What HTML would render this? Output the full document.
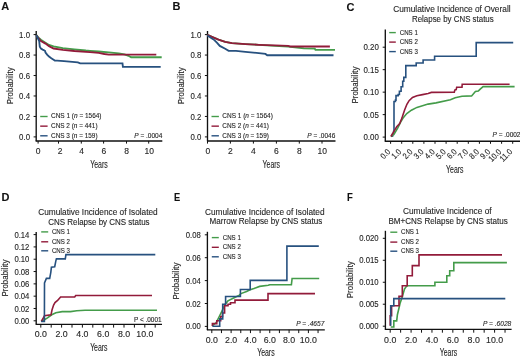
<!DOCTYPE html>
<html><head><meta charset="utf-8"><style>
html,body{margin:0;padding:0;background:#fff;}
body{width:520px;height:359px;overflow:hidden;}
svg{display:block;font-family:"Liberation Sans", sans-serif;will-change:transform;filter:blur(0.45px);}
text{stroke:#262626;stroke-width:0.12px;}
</style></head><body>
<svg width="520" height="359" viewBox="0 0 520 359">
<rect width="520" height="359" fill="#fff"/>
<text x="1.2" y="9.6" font-size="11" text-anchor="start" fill="#111" font-weight="bold" font-style="normal">A</text>
<line x1="36.2" y1="31" x2="36.2" y2="141.3" stroke="#111" stroke-width="1.35"/>
<line x1="33.6" y1="34.6" x2="36.2" y2="34.6" stroke="#111" stroke-width="1.0"/>
<text x="30" y="37.7" font-size="8.6" text-anchor="end" fill="#262626" font-weight="normal" font-style="normal" textLength="10.9" lengthAdjust="spacingAndGlyphs">1.0</text>
<line x1="33.6" y1="55.06" x2="36.2" y2="55.06" stroke="#111" stroke-width="1.0"/>
<text x="30" y="58.16" font-size="8.6" text-anchor="end" fill="#262626" font-weight="normal" font-style="normal" textLength="10.9" lengthAdjust="spacingAndGlyphs">0.8</text>
<line x1="33.6" y1="75.52" x2="36.2" y2="75.52" stroke="#111" stroke-width="1.0"/>
<text x="30" y="78.62" font-size="8.6" text-anchor="end" fill="#262626" font-weight="normal" font-style="normal" textLength="10.9" lengthAdjust="spacingAndGlyphs">0.6</text>
<line x1="33.6" y1="95.98" x2="36.2" y2="95.98" stroke="#111" stroke-width="1.0"/>
<text x="30" y="99.08" font-size="8.6" text-anchor="end" fill="#262626" font-weight="normal" font-style="normal" textLength="10.9" lengthAdjust="spacingAndGlyphs">0.4</text>
<line x1="33.6" y1="116.44" x2="36.2" y2="116.44" stroke="#111" stroke-width="1.0"/>
<text x="30" y="119.54" font-size="8.6" text-anchor="end" fill="#262626" font-weight="normal" font-style="normal" textLength="10.9" lengthAdjust="spacingAndGlyphs">0.2</text>
<line x1="33.6" y1="136.9" x2="36.2" y2="136.9" stroke="#111" stroke-width="1.0"/>
<text x="30" y="140" font-size="8.6" text-anchor="end" fill="#262626" font-weight="normal" font-style="normal" textLength="10.9" lengthAdjust="spacingAndGlyphs">0.0</text>
<line x1="35.7" y1="141" x2="162.3" y2="141" stroke="#111" stroke-width="1.35"/>
<line x1="38.1" y1="141" x2="38.1" y2="143.6" stroke="#111" stroke-width="1.0"/>
<line x1="58.5" y1="141" x2="58.5" y2="143.6" stroke="#111" stroke-width="1.0"/>
<line x1="81.3" y1="141" x2="81.3" y2="143.6" stroke="#111" stroke-width="1.0"/>
<line x1="103.6" y1="141" x2="103.6" y2="143.6" stroke="#111" stroke-width="1.0"/>
<line x1="126.5" y1="141" x2="126.5" y2="143.6" stroke="#111" stroke-width="1.0"/>
<line x1="148.7" y1="141" x2="148.7" y2="143.6" stroke="#111" stroke-width="1.0"/>
<text x="38" y="154.16" font-size="8.5" text-anchor="middle" fill="#262626" font-weight="normal" font-style="normal">0</text>
<text x="60" y="154.16" font-size="8.5" text-anchor="middle" fill="#262626" font-weight="normal" font-style="normal">2</text>
<text x="81.7" y="154.16" font-size="8.5" text-anchor="middle" fill="#262626" font-weight="normal" font-style="normal">4</text>
<text x="103.8" y="154.16" font-size="8.5" text-anchor="middle" fill="#262626" font-weight="normal" font-style="normal">6</text>
<text x="126.5" y="154.16" font-size="8.5" text-anchor="middle" fill="#262626" font-weight="normal" font-style="normal">8</text>
<text x="149.2" y="154.16" font-size="8.5" text-anchor="middle" fill="#262626" font-weight="normal" font-style="normal">10</text>
<text x="99" y="167.5" font-size="10.2" text-anchor="middle" fill="#262626" font-weight="normal" font-style="normal" textLength="17.5" lengthAdjust="spacingAndGlyphs">Years</text>
<text transform="translate(13,85.8) rotate(-90)" x="0" y="0" font-size="9" text-anchor="middle" fill="#262626" textLength="37" lengthAdjust="spacingAndGlyphs">Probability</text>
<line x1="40.2" y1="116.5" x2="47.6" y2="116.5" stroke="#449c4a" stroke-width="1.4"/>
<line x1="40.2" y1="126.15" x2="47.6" y2="126.15" stroke="#921b3a" stroke-width="1.4"/>
<line x1="40.2" y1="135.8" x2="47.6" y2="135.8" stroke="#27517f" stroke-width="1.4"/>
<text x="51" y="118.35" font-size="7.2" fill="#262626" textLength="50.5" lengthAdjust="spacingAndGlyphs">CNS 1 (<tspan font-style="italic">n</tspan> = 1564)</text>
<text x="51" y="128" font-size="7.2" fill="#262626" textLength="46.6" lengthAdjust="spacingAndGlyphs">CNS 2 (<tspan font-style="italic">n</tspan> = 441)</text>
<text x="51" y="137.65" font-size="7.2" fill="#262626" textLength="46.6" lengthAdjust="spacingAndGlyphs">CNS 3 (<tspan font-style="italic">n</tspan> = 159)</text>
<text x="162.3" y="137.75" font-size="6.8" fill="#262626" text-anchor="end" textLength="28" lengthAdjust="spacingAndGlyphs"><tspan font-style="italic">P</tspan> = .0004</text>
<polyline points="36.3,35.2 38.5,37.6 40.9,39.8 45.5,42.7 49,45 53.6,46.4 62.8,48.2 74.4,49.4 85.9,50.5 90,50.8 98.7,51.5 108.8,52.3 118.8,53.3 124.5,54.4 128.5,55.8 131.1,57.2 161.7,57.2" fill="none" stroke="#449c4a" stroke-width="1.85" stroke-linejoin="miter"/>
<polyline points="36.3,35.2 38.5,38.2 40.9,41 45.5,43.6 49,46.2 53.6,48.5 62.8,49.8 74.4,51 85.9,51.9 90,52.2 98.7,52.9 104.4,54 108.8,54.6 156.3,54.6" fill="none" stroke="#921b3a" stroke-width="1.85" stroke-linejoin="miter"/>
<polyline points="36.3,35.2 37.5,37.5 39.2,41 39.8,46.7 40.9,48.5 42.7,49.6 45,50.8 45.5,52.5 47.3,54.8 49,56.5 51.3,58.3 53.6,59.8 54.8,60.6 57.1,60.6 64,61.2 77.8,62.3 80.2,63.4 122.5,63.4 122.9,66.8 160.7,66.8" fill="none" stroke="#27517f" stroke-width="1.85" stroke-linejoin="miter"/>
<text x="172.5" y="10.1" font-size="11" text-anchor="start" fill="#111" font-weight="bold" font-style="normal">B</text>
<line x1="207.5" y1="31" x2="207.5" y2="141.3" stroke="#111" stroke-width="1.35"/>
<line x1="204.9" y1="34.6" x2="207.5" y2="34.6" stroke="#111" stroke-width="1.0"/>
<text x="201.3" y="37.7" font-size="8.6" text-anchor="end" fill="#262626" font-weight="normal" font-style="normal" textLength="10.9" lengthAdjust="spacingAndGlyphs">1.0</text>
<line x1="204.9" y1="55.06" x2="207.5" y2="55.06" stroke="#111" stroke-width="1.0"/>
<text x="201.3" y="58.16" font-size="8.6" text-anchor="end" fill="#262626" font-weight="normal" font-style="normal" textLength="10.9" lengthAdjust="spacingAndGlyphs">0.8</text>
<line x1="204.9" y1="75.52" x2="207.5" y2="75.52" stroke="#111" stroke-width="1.0"/>
<text x="201.3" y="78.62" font-size="8.6" text-anchor="end" fill="#262626" font-weight="normal" font-style="normal" textLength="10.9" lengthAdjust="spacingAndGlyphs">0.6</text>
<line x1="204.9" y1="95.98" x2="207.5" y2="95.98" stroke="#111" stroke-width="1.0"/>
<text x="201.3" y="99.08" font-size="8.6" text-anchor="end" fill="#262626" font-weight="normal" font-style="normal" textLength="10.9" lengthAdjust="spacingAndGlyphs">0.4</text>
<line x1="204.9" y1="116.44" x2="207.5" y2="116.44" stroke="#111" stroke-width="1.0"/>
<text x="201.3" y="119.54" font-size="8.6" text-anchor="end" fill="#262626" font-weight="normal" font-style="normal" textLength="10.9" lengthAdjust="spacingAndGlyphs">0.2</text>
<line x1="204.9" y1="136.9" x2="207.5" y2="136.9" stroke="#111" stroke-width="1.0"/>
<text x="201.3" y="140" font-size="8.6" text-anchor="end" fill="#262626" font-weight="normal" font-style="normal" textLength="10.9" lengthAdjust="spacingAndGlyphs">0.0</text>
<line x1="207" y1="141" x2="335.5" y2="141" stroke="#111" stroke-width="1.35"/>
<line x1="207.5" y1="141" x2="207.5" y2="143.6" stroke="#111" stroke-width="1.0"/>
<line x1="230.4" y1="141" x2="230.4" y2="143.6" stroke="#111" stroke-width="1.0"/>
<line x1="253.4" y1="141" x2="253.4" y2="143.6" stroke="#111" stroke-width="1.0"/>
<line x1="276.4" y1="141" x2="276.4" y2="143.6" stroke="#111" stroke-width="1.0"/>
<line x1="299.3" y1="141" x2="299.3" y2="143.6" stroke="#111" stroke-width="1.0"/>
<line x1="322" y1="141" x2="322" y2="143.6" stroke="#111" stroke-width="1.0"/>
<text x="207.8" y="154.16" font-size="8.5" text-anchor="middle" fill="#262626" font-weight="normal" font-style="normal">0</text>
<text x="230.4" y="154.16" font-size="8.5" text-anchor="middle" fill="#262626" font-weight="normal" font-style="normal">2</text>
<text x="253.4" y="154.16" font-size="8.5" text-anchor="middle" fill="#262626" font-weight="normal" font-style="normal">4</text>
<text x="276.4" y="154.16" font-size="8.5" text-anchor="middle" fill="#262626" font-weight="normal" font-style="normal">6</text>
<text x="299.3" y="154.16" font-size="8.5" text-anchor="middle" fill="#262626" font-weight="normal" font-style="normal">8</text>
<text x="322.2" y="154.16" font-size="8.5" text-anchor="middle" fill="#262626" font-weight="normal" font-style="normal">10</text>
<text x="271.3" y="167.5" font-size="10.2" text-anchor="middle" fill="#262626" font-weight="normal" font-style="normal" textLength="17.5" lengthAdjust="spacingAndGlyphs">Years</text>
<text transform="translate(184.3,85.8) rotate(-90)" x="0" y="0" font-size="9" text-anchor="middle" fill="#262626" textLength="37" lengthAdjust="spacingAndGlyphs">Probability</text>
<line x1="211.5" y1="116.5" x2="218.9" y2="116.5" stroke="#449c4a" stroke-width="1.4"/>
<line x1="211.5" y1="126.15" x2="218.9" y2="126.15" stroke="#921b3a" stroke-width="1.4"/>
<line x1="211.5" y1="135.8" x2="218.9" y2="135.8" stroke="#27517f" stroke-width="1.4"/>
<text x="222.3" y="118.35" font-size="7.2" fill="#262626" textLength="50.5" lengthAdjust="spacingAndGlyphs">CNS 1 (<tspan font-style="italic">n</tspan> = 1564)</text>
<text x="222.3" y="128" font-size="7.2" fill="#262626" textLength="46.6" lengthAdjust="spacingAndGlyphs">CNS 2 (<tspan font-style="italic">n</tspan> = 441)</text>
<text x="222.3" y="137.65" font-size="7.2" fill="#262626" textLength="46.6" lengthAdjust="spacingAndGlyphs">CNS 3 (<tspan font-style="italic">n</tspan> = 159)</text>
<text x="335.3" y="137.75" font-size="6.8" fill="#262626" text-anchor="end" textLength="28" lengthAdjust="spacingAndGlyphs"><tspan font-style="italic">P</tspan> = .0046</text>
<polyline points="207.4,34.9 213.1,37.4 218.5,39.7 225.2,41.8 231.9,43.2 245.4,44.1 258.8,44.8 275,45.9 288.1,46.6 303.9,48.3 314.8,48.7 315.5,49.9 335,49.9" fill="none" stroke="#449c4a" stroke-width="1.85" stroke-linejoin="miter"/>
<polyline points="207.4,34.9 213.1,37.4 218.5,39.7 225.2,41.8 231.9,43.2 245.4,44.1 258.8,44.8 275,45.3 288.1,45.8 290.2,46.5 329.9,46.5" fill="none" stroke="#921b3a" stroke-width="1.85" stroke-linejoin="miter"/>
<polyline points="207.4,35.4 210.4,37.4 214.4,40.1 217.1,42.8 219.8,45.9 225.2,48.8 228.6,50.9 236,50.9 245.4,51.8 258.8,53.1 265.5,53.9 267.2,55.2 333.5,55.2" fill="none" stroke="#27517f" stroke-width="1.85" stroke-linejoin="miter"/>
<text x="346.5" y="10.7" font-size="11" text-anchor="start" fill="#111" font-weight="bold" font-style="normal">C</text>
<text x="451.9" y="12.4" font-size="8.7" text-anchor="middle" fill="#262626" font-weight="normal" font-style="normal" textLength="117.4" lengthAdjust="spacingAndGlyphs">Cumulative Incidence of Overall</text>
<text x="452.85" y="22.1" font-size="8.7" text-anchor="middle" fill="#262626" font-weight="normal" font-style="normal" textLength="81.7" lengthAdjust="spacingAndGlyphs">Relapse by CNS status</text>
<line x1="385.3" y1="29.4" x2="385.3" y2="141.5" stroke="#111" stroke-width="1.35"/>
<line x1="382.7" y1="137.1" x2="385.3" y2="137.1" stroke="#111" stroke-width="1.0"/>
<text x="378.8" y="140.16" font-size="8.5" text-anchor="end" fill="#262626" font-weight="normal" font-style="normal" textLength="15.4" lengthAdjust="spacingAndGlyphs">0.00</text>
<line x1="382.7" y1="114.62" x2="385.3" y2="114.62" stroke="#111" stroke-width="1.0"/>
<text x="378.8" y="117.69" font-size="8.5" text-anchor="end" fill="#262626" font-weight="normal" font-style="normal" textLength="15.4" lengthAdjust="spacingAndGlyphs">0.05</text>
<line x1="382.7" y1="92.15" x2="385.3" y2="92.15" stroke="#111" stroke-width="1.0"/>
<text x="378.8" y="95.21" font-size="8.5" text-anchor="end" fill="#262626" font-weight="normal" font-style="normal" textLength="15.4" lengthAdjust="spacingAndGlyphs">0.10</text>
<line x1="382.7" y1="69.67" x2="385.3" y2="69.67" stroke="#111" stroke-width="1.0"/>
<text x="378.8" y="72.73" font-size="8.5" text-anchor="end" fill="#262626" font-weight="normal" font-style="normal" textLength="15.4" lengthAdjust="spacingAndGlyphs">0.15</text>
<line x1="382.7" y1="47.2" x2="385.3" y2="47.2" stroke="#111" stroke-width="1.0"/>
<text x="378.8" y="50.26" font-size="8.5" text-anchor="end" fill="#262626" font-weight="normal" font-style="normal" textLength="15.4" lengthAdjust="spacingAndGlyphs">0.20</text>
<line x1="384.8" y1="141.2" x2="520" y2="141.2" stroke="#111" stroke-width="1.35"/>
<line x1="390.6" y1="141.2" x2="390.6" y2="143.8" stroke="#111" stroke-width="1.0"/>
<line x1="401.7" y1="141.2" x2="401.7" y2="143.8" stroke="#111" stroke-width="1.0"/>
<line x1="412.8" y1="141.2" x2="412.8" y2="143.8" stroke="#111" stroke-width="1.0"/>
<line x1="423.9" y1="141.2" x2="423.9" y2="143.8" stroke="#111" stroke-width="1.0"/>
<line x1="435" y1="141.2" x2="435" y2="143.8" stroke="#111" stroke-width="1.0"/>
<line x1="446.1" y1="141.2" x2="446.1" y2="143.8" stroke="#111" stroke-width="1.0"/>
<line x1="457.2" y1="141.2" x2="457.2" y2="143.8" stroke="#111" stroke-width="1.0"/>
<line x1="468.3" y1="141.2" x2="468.3" y2="143.8" stroke="#111" stroke-width="1.0"/>
<line x1="479.4" y1="141.2" x2="479.4" y2="143.8" stroke="#111" stroke-width="1.0"/>
<line x1="490.5" y1="141.2" x2="490.5" y2="143.8" stroke="#111" stroke-width="1.0"/>
<line x1="501.6" y1="141.2" x2="501.6" y2="143.8" stroke="#111" stroke-width="1.0"/>
<line x1="512.7" y1="141.2" x2="512.7" y2="143.8" stroke="#111" stroke-width="1.0"/>
<text transform="translate(390.9,152.3) rotate(-45)" font-size="8.4" text-anchor="end" fill="#262626" textLength="10.2" lengthAdjust="spacingAndGlyphs">0.0</text>
<text transform="translate(402,152.3) rotate(-45)" font-size="8.4" text-anchor="end" fill="#262626" textLength="10.2" lengthAdjust="spacingAndGlyphs">1.0</text>
<text transform="translate(413.1,152.3) rotate(-45)" font-size="8.4" text-anchor="end" fill="#262626" textLength="10.2" lengthAdjust="spacingAndGlyphs">2.0</text>
<text transform="translate(424.2,152.3) rotate(-45)" font-size="8.4" text-anchor="end" fill="#262626" textLength="10.2" lengthAdjust="spacingAndGlyphs">3.0</text>
<text transform="translate(435.3,152.3) rotate(-45)" font-size="8.4" text-anchor="end" fill="#262626" textLength="10.2" lengthAdjust="spacingAndGlyphs">4.0</text>
<text transform="translate(446.4,152.3) rotate(-45)" font-size="8.4" text-anchor="end" fill="#262626" textLength="10.2" lengthAdjust="spacingAndGlyphs">5.0</text>
<text transform="translate(457.5,152.3) rotate(-45)" font-size="8.4" text-anchor="end" fill="#262626" textLength="10.2" lengthAdjust="spacingAndGlyphs">6.0</text>
<text transform="translate(468.6,152.3) rotate(-45)" font-size="8.4" text-anchor="end" fill="#262626" textLength="10.2" lengthAdjust="spacingAndGlyphs">7.0</text>
<text transform="translate(479.7,152.3) rotate(-45)" font-size="8.4" text-anchor="end" fill="#262626" textLength="10.2" lengthAdjust="spacingAndGlyphs">8.0</text>
<text transform="translate(490.8,152.3) rotate(-45)" font-size="8.4" text-anchor="end" fill="#262626" textLength="10.2" lengthAdjust="spacingAndGlyphs">9.0</text>
<text transform="translate(501.9,152.3) rotate(-45)" font-size="8.4" text-anchor="end" fill="#262626" textLength="14.2" lengthAdjust="spacingAndGlyphs">10.0</text>
<text transform="translate(513,152.3) rotate(-45)" font-size="8.4" text-anchor="end" fill="#262626" textLength="14.2" lengthAdjust="spacingAndGlyphs">11.0</text>
<text x="454.8" y="173.1" font-size="10.2" text-anchor="middle" fill="#262626" font-weight="normal" font-style="normal" textLength="17.4" lengthAdjust="spacingAndGlyphs">Years</text>
<text transform="translate(357.9,85) rotate(-90)" x="0" y="0" font-size="9" text-anchor="middle" fill="#262626" textLength="37" lengthAdjust="spacingAndGlyphs">Probability</text>
<line x1="389.2" y1="32.6" x2="395.8" y2="32.6" stroke="#449c4a" stroke-width="1.4"/>
<text x="399.8" y="34.7" font-size="6.3" text-anchor="start" fill="#262626" font-weight="normal" font-style="normal" textLength="18" lengthAdjust="spacingAndGlyphs">CNS 1</text>
<line x1="389.2" y1="42.1" x2="395.8" y2="42.1" stroke="#921b3a" stroke-width="1.4"/>
<text x="399.8" y="44.2" font-size="6.3" text-anchor="start" fill="#262626" font-weight="normal" font-style="normal" textLength="18" lengthAdjust="spacingAndGlyphs">CNS 2</text>
<line x1="389.2" y1="51.6" x2="395.8" y2="51.6" stroke="#27517f" stroke-width="1.4"/>
<text x="399.8" y="53.7" font-size="6.3" text-anchor="start" fill="#262626" font-weight="normal" font-style="normal" textLength="18" lengthAdjust="spacingAndGlyphs">CNS 3</text>
<text x="520.5" y="136.7" font-size="6.4" fill="#262626" text-anchor="end" textLength="28" lengthAdjust="spacingAndGlyphs"><tspan font-style="italic">P</tspan> = .0002</text>
<polyline points="390.9,136.3 392.5,136.3 392.5,134.5 393.6,134.5 393.6,131.5 394,131.5 394,101.5 395.4,101.5 395.4,100.1 396,100.1 396,95.6 398.2,95.6 398.2,94.5 399.4,94.5 399.4,91.2 401.1,91.2 401.1,86.7 402.7,86.7 402.7,81.2 403.8,81.2 403.8,77.4 405.8,77.4 405.8,75 405.8,65.6 416.2,65.6 416.2,63 423.1,63 423.1,60 434.6,60 434.6,56.2 476.2,56.2 476.2,42.6 513.2,42.6" fill="none" stroke="#27517f" stroke-width="1.6" stroke-linejoin="miter"/>
<polyline points="391.3,136.6 394.5,133.4 397.8,127.9 401.1,121.2 403.5,117.4 406.8,113.6 411.4,110.2 416.9,107.4 422.5,105.7 428.1,104.1 436,102.9 450.4,99.7 455.2,97.8 462,96.2 471.6,95.9 475.4,91.5 478.3,91.1 480.2,89.1 483.1,86.6 514.6,86.6" fill="none" stroke="#449c4a" stroke-width="1.6" stroke-linejoin="miter"/>
<polyline points="390.9,136.5 393.3,132.3 396.7,126.8 399.7,123.5 401.5,119 402.5,116.3 404.7,109.8 406.9,104.3 409.1,100.7 412.5,97.4 416.9,95.7 422.5,94.6 428.1,93.5 431.4,92.4 454.3,92.3 454.8,90.1 456.2,89.6 456.7,87.2 462,87.2 462.2,84.3 509.6,84.3" fill="none" stroke="#921b3a" stroke-width="1.6" stroke-linejoin="miter"/>
<text x="1.5" y="201" font-size="11" text-anchor="start" fill="#111" font-weight="bold" font-style="normal">D</text>
<text x="97.95" y="214.5" font-size="8.7" text-anchor="middle" fill="#262626" font-weight="normal" font-style="normal" textLength="119.5" lengthAdjust="spacingAndGlyphs">Cumulative Incidence of Isolated</text>
<text x="98.9" y="224.6" font-size="8.7" text-anchor="middle" fill="#262626" font-weight="normal" font-style="normal" textLength="101.4" lengthAdjust="spacingAndGlyphs">CNS Relapse by CNS status</text>
<line x1="36.2" y1="232" x2="36.2" y2="324.6" stroke="#111" stroke-width="1.35"/>
<line x1="33.6" y1="320.8" x2="36.2" y2="320.8" stroke="#111" stroke-width="1.0"/>
<text x="29.4" y="323.86" font-size="8.5" text-anchor="end" fill="#262626" font-weight="normal" font-style="normal" textLength="15" lengthAdjust="spacingAndGlyphs">0.00</text>
<line x1="33.6" y1="308.49" x2="36.2" y2="308.49" stroke="#111" stroke-width="1.0"/>
<text x="29.4" y="311.55" font-size="8.5" text-anchor="end" fill="#262626" font-weight="normal" font-style="normal" textLength="15" lengthAdjust="spacingAndGlyphs">0.02</text>
<line x1="33.6" y1="296.17" x2="36.2" y2="296.17" stroke="#111" stroke-width="1.0"/>
<text x="29.4" y="299.23" font-size="8.5" text-anchor="end" fill="#262626" font-weight="normal" font-style="normal" textLength="15" lengthAdjust="spacingAndGlyphs">0.04</text>
<line x1="33.6" y1="283.86" x2="36.2" y2="283.86" stroke="#111" stroke-width="1.0"/>
<text x="29.4" y="286.92" font-size="8.5" text-anchor="end" fill="#262626" font-weight="normal" font-style="normal" textLength="15" lengthAdjust="spacingAndGlyphs">0.06</text>
<line x1="33.6" y1="271.54" x2="36.2" y2="271.54" stroke="#111" stroke-width="1.0"/>
<text x="29.4" y="274.6" font-size="8.5" text-anchor="end" fill="#262626" font-weight="normal" font-style="normal" textLength="15" lengthAdjust="spacingAndGlyphs">0.08</text>
<line x1="33.6" y1="259.23" x2="36.2" y2="259.23" stroke="#111" stroke-width="1.0"/>
<text x="29.4" y="262.29" font-size="8.5" text-anchor="end" fill="#262626" font-weight="normal" font-style="normal" textLength="15" lengthAdjust="spacingAndGlyphs">0.10</text>
<line x1="33.6" y1="246.92" x2="36.2" y2="246.92" stroke="#111" stroke-width="1.0"/>
<text x="29.4" y="249.98" font-size="8.5" text-anchor="end" fill="#262626" font-weight="normal" font-style="normal" textLength="15" lengthAdjust="spacingAndGlyphs">0.12</text>
<line x1="33.6" y1="234.6" x2="36.2" y2="234.6" stroke="#111" stroke-width="1.0"/>
<text x="29.4" y="237.66" font-size="8.5" text-anchor="end" fill="#262626" font-weight="normal" font-style="normal" textLength="15" lengthAdjust="spacingAndGlyphs">0.14</text>
<line x1="35.7" y1="324.3" x2="162" y2="324.3" stroke="#111" stroke-width="1.35"/>
<line x1="40.8" y1="324.3" x2="40.8" y2="327.6" stroke="#111" stroke-width="1.0"/>
<line x1="51.2" y1="324.3" x2="51.2" y2="327.6" stroke="#111" stroke-width="1.0"/>
<line x1="61.6" y1="324.3" x2="61.6" y2="327.6" stroke="#111" stroke-width="1.0"/>
<line x1="72" y1="324.3" x2="72" y2="327.6" stroke="#111" stroke-width="1.0"/>
<line x1="82.4" y1="324.3" x2="82.4" y2="327.6" stroke="#111" stroke-width="1.0"/>
<line x1="92.8" y1="324.3" x2="92.8" y2="327.6" stroke="#111" stroke-width="1.0"/>
<line x1="103.2" y1="324.3" x2="103.2" y2="327.6" stroke="#111" stroke-width="1.0"/>
<line x1="113.6" y1="324.3" x2="113.6" y2="327.6" stroke="#111" stroke-width="1.0"/>
<line x1="124" y1="324.3" x2="124" y2="327.6" stroke="#111" stroke-width="1.0"/>
<line x1="134.4" y1="324.3" x2="134.4" y2="327.6" stroke="#111" stroke-width="1.0"/>
<line x1="144.8" y1="324.3" x2="144.8" y2="327.6" stroke="#111" stroke-width="1.0"/>
<line x1="155.2" y1="324.3" x2="155.2" y2="327.6" stroke="#111" stroke-width="1.0"/>
<text x="40.8" y="337.47" font-size="8.8" text-anchor="middle" fill="#262626" font-weight="normal" font-style="normal">0.0</text>
<text x="61.6" y="337.47" font-size="8.8" text-anchor="middle" fill="#262626" font-weight="normal" font-style="normal">2.0</text>
<text x="82.4" y="337.47" font-size="8.8" text-anchor="middle" fill="#262626" font-weight="normal" font-style="normal">4.0</text>
<text x="103.2" y="337.47" font-size="8.8" text-anchor="middle" fill="#262626" font-weight="normal" font-style="normal">6.0</text>
<text x="124" y="337.47" font-size="8.8" text-anchor="middle" fill="#262626" font-weight="normal" font-style="normal">8.0</text>
<text x="144.8" y="337.47" font-size="8.8" text-anchor="middle" fill="#262626" font-weight="normal" font-style="normal">10.0</text>
<text x="98.85" y="351" font-size="10.2" text-anchor="middle" fill="#262626" font-weight="normal" font-style="normal" textLength="17.4" lengthAdjust="spacingAndGlyphs">Years</text>
<text transform="translate(8.3,278) rotate(-90)" x="0" y="0" font-size="9" text-anchor="middle" fill="#262626" textLength="37" lengthAdjust="spacingAndGlyphs">Probability</text>
<line x1="41.2" y1="231.9" x2="48.2" y2="231.9" stroke="#449c4a" stroke-width="1.4"/>
<text x="51.9" y="234" font-size="6.3" text-anchor="start" fill="#262626" font-weight="normal" font-style="normal" textLength="18" lengthAdjust="spacingAndGlyphs">CNS 1</text>
<line x1="41.2" y1="241.8" x2="48.2" y2="241.8" stroke="#921b3a" stroke-width="1.4"/>
<text x="51.9" y="243.9" font-size="6.3" text-anchor="start" fill="#262626" font-weight="normal" font-style="normal" textLength="18" lengthAdjust="spacingAndGlyphs">CNS 2</text>
<line x1="41.2" y1="250.8" x2="48.2" y2="250.8" stroke="#27517f" stroke-width="1.4"/>
<text x="51.9" y="252.9" font-size="6.3" text-anchor="start" fill="#262626" font-weight="normal" font-style="normal" textLength="18" lengthAdjust="spacingAndGlyphs">CNS 3</text>
<text x="161.6" y="322.1" font-size="6.4" fill="#262626" text-anchor="end" textLength="27.6" lengthAdjust="spacingAndGlyphs">P &lt; .0001</text>
<polyline points="41.2,321.2 44,320 47.5,317.9 51.7,314.8 55.9,312.7 62.2,311.6 70.5,311.6 76.8,310.8 85,310.2 157,310.2" fill="none" stroke="#449c4a" stroke-width="1.6" stroke-linejoin="miter"/>
<polyline points="41.3,321.3 43.3,318 44.5,315.8 51,314.8 52,310 53.6,305 55,302.5 57.6,300.5 60.6,297 74.7,297 75.7,295.5 152,295.5" fill="none" stroke="#921b3a" stroke-width="1.6" stroke-linejoin="miter"/>
<polyline points="41.2,321.5 44.4,321.5 44.5,283 46.4,278.4 49.7,278.4 50.8,272.3 51.4,267.3 54.7,266.7 55.8,261.1 56.4,258.9 65.3,258.9 65.9,254.6 155.3,254.6" fill="none" stroke="#27517f" stroke-width="1.6" stroke-linejoin="miter"/>
<text x="174" y="201" font-size="11" text-anchor="start" fill="#111" font-weight="bold" font-style="normal" textLength="6.2" lengthAdjust="spacingAndGlyphs">E</text>
<text x="264.75" y="214.5" font-size="8.7" text-anchor="middle" fill="#262626" font-weight="normal" font-style="normal" textLength="119.5" lengthAdjust="spacingAndGlyphs">Cumulative Incidence of Isolated</text>
<text x="265.95" y="224.4" font-size="8.7" text-anchor="middle" fill="#262626" font-weight="normal" font-style="normal" textLength="112.7" lengthAdjust="spacingAndGlyphs">Marrow Relapse by CNS status</text>
<line x1="207.4" y1="231.8" x2="207.4" y2="330.1" stroke="#111" stroke-width="1.35"/>
<line x1="204.8" y1="326.4" x2="207.4" y2="326.4" stroke="#111" stroke-width="1.0"/>
<text x="200.8" y="329.46" font-size="8.5" text-anchor="end" fill="#262626" font-weight="normal" font-style="normal" textLength="15" lengthAdjust="spacingAndGlyphs">0.00</text>
<line x1="204.8" y1="303.5" x2="207.4" y2="303.5" stroke="#111" stroke-width="1.0"/>
<text x="200.8" y="306.56" font-size="8.5" text-anchor="end" fill="#262626" font-weight="normal" font-style="normal" textLength="15" lengthAdjust="spacingAndGlyphs">0.02</text>
<line x1="204.8" y1="280.6" x2="207.4" y2="280.6" stroke="#111" stroke-width="1.0"/>
<text x="200.8" y="283.66" font-size="8.5" text-anchor="end" fill="#262626" font-weight="normal" font-style="normal" textLength="15" lengthAdjust="spacingAndGlyphs">0.04</text>
<line x1="204.8" y1="257.7" x2="207.4" y2="257.7" stroke="#111" stroke-width="1.0"/>
<text x="200.8" y="260.76" font-size="8.5" text-anchor="end" fill="#262626" font-weight="normal" font-style="normal" textLength="15" lengthAdjust="spacingAndGlyphs">0.06</text>
<line x1="204.8" y1="234.8" x2="207.4" y2="234.8" stroke="#111" stroke-width="1.0"/>
<text x="200.8" y="237.86" font-size="8.5" text-anchor="end" fill="#262626" font-weight="normal" font-style="normal" textLength="15" lengthAdjust="spacingAndGlyphs">0.08</text>
<line x1="206.9" y1="329.8" x2="324.8" y2="329.8" stroke="#111" stroke-width="1.35"/>
<line x1="211.8" y1="329.8" x2="211.8" y2="333.1" stroke="#111" stroke-width="1.0"/>
<line x1="221.46" y1="329.8" x2="221.46" y2="333.1" stroke="#111" stroke-width="1.0"/>
<line x1="231.12" y1="329.8" x2="231.12" y2="333.1" stroke="#111" stroke-width="1.0"/>
<line x1="240.78" y1="329.8" x2="240.78" y2="333.1" stroke="#111" stroke-width="1.0"/>
<line x1="250.44" y1="329.8" x2="250.44" y2="333.1" stroke="#111" stroke-width="1.0"/>
<line x1="260.1" y1="329.8" x2="260.1" y2="333.1" stroke="#111" stroke-width="1.0"/>
<line x1="269.76" y1="329.8" x2="269.76" y2="333.1" stroke="#111" stroke-width="1.0"/>
<line x1="279.42" y1="329.8" x2="279.42" y2="333.1" stroke="#111" stroke-width="1.0"/>
<line x1="289.08" y1="329.8" x2="289.08" y2="333.1" stroke="#111" stroke-width="1.0"/>
<line x1="298.74" y1="329.8" x2="298.74" y2="333.1" stroke="#111" stroke-width="1.0"/>
<line x1="308.4" y1="329.8" x2="308.4" y2="333.1" stroke="#111" stroke-width="1.0"/>
<line x1="318.06" y1="329.8" x2="318.06" y2="333.1" stroke="#111" stroke-width="1.0"/>
<text x="211.8" y="342.97" font-size="8.8" text-anchor="middle" fill="#262626" font-weight="normal" font-style="normal">0.0</text>
<text x="231.12" y="342.97" font-size="8.8" text-anchor="middle" fill="#262626" font-weight="normal" font-style="normal">2.0</text>
<text x="250.44" y="342.97" font-size="8.8" text-anchor="middle" fill="#262626" font-weight="normal" font-style="normal">4.0</text>
<text x="269.76" y="342.97" font-size="8.8" text-anchor="middle" fill="#262626" font-weight="normal" font-style="normal">6.0</text>
<text x="289.08" y="342.97" font-size="8.8" text-anchor="middle" fill="#262626" font-weight="normal" font-style="normal">8.0</text>
<text x="308.4" y="342.97" font-size="8.8" text-anchor="middle" fill="#262626" font-weight="normal" font-style="normal">10.0</text>
<text x="265.9" y="356.2" font-size="10.2" text-anchor="middle" fill="#262626" font-weight="normal" font-style="normal" textLength="17.4" lengthAdjust="spacingAndGlyphs">Years</text>
<text transform="translate(178.6,281) rotate(-90)" x="0" y="0" font-size="9" text-anchor="middle" fill="#262626" textLength="37" lengthAdjust="spacingAndGlyphs">Probability</text>
<line x1="211.8" y1="237.6" x2="218.8" y2="237.6" stroke="#449c4a" stroke-width="1.4"/>
<text x="222.8" y="239.7" font-size="6.3" text-anchor="start" fill="#262626" font-weight="normal" font-style="normal" textLength="18" lengthAdjust="spacingAndGlyphs">CNS 1</text>
<line x1="211.8" y1="247.3" x2="218.8" y2="247.3" stroke="#921b3a" stroke-width="1.4"/>
<text x="222.8" y="249.4" font-size="6.3" text-anchor="start" fill="#262626" font-weight="normal" font-style="normal" textLength="18" lengthAdjust="spacingAndGlyphs">CNS 2</text>
<line x1="211.8" y1="256.8" x2="218.8" y2="256.8" stroke="#27517f" stroke-width="1.4"/>
<text x="222.8" y="258.9" font-size="6.3" text-anchor="start" fill="#262626" font-weight="normal" font-style="normal" textLength="18" lengthAdjust="spacingAndGlyphs">CNS 3</text>
<text x="324.3" y="326.3" font-size="6.4" fill="#262626" text-anchor="end" textLength="28" lengthAdjust="spacingAndGlyphs" font-style="italic">P = .4657</text>
<polyline points="212.2,326 216.2,322.6 219,317.1 221.7,311.5 224.5,305.5 225,304.5 227.9,300.9 233.7,298 239.4,295.1 240.9,293.6 246.6,291.5 249.5,290 253.9,288.6 259.6,286.4 268.3,285.3 269.7,284.7 291.4,284.7 292.1,278.5 319.2,278.5" fill="none" stroke="#449c4a" stroke-width="1.6" stroke-linejoin="miter"/>
<polyline points="212.4,326 212.4,323.6 216.8,323.6 216.8,320.8 220.7,320.8 220.7,316.5 222.5,316.5 222.5,313 224.6,313 224.6,305.7 228,305.7 228,304.2 230.5,304.2 230.5,302.8 235,302.8 235,300.1 268,300.1 268,293.6 315,293.6" fill="none" stroke="#921b3a" stroke-width="1.6" stroke-linejoin="miter"/>
<polyline points="212.4,326.3 219.7,326.3 219.7,318.9 222.7,318.9 222.7,304.2 225.6,304.2 225.6,296.5 240.4,296.5 240.4,289.5 250.2,289.5 250.2,280.4 286.9,280.4 286.9,246.1 318.8,246.1" fill="none" stroke="#27517f" stroke-width="1.6" stroke-linejoin="miter"/>
<text x="347" y="201" font-size="11" text-anchor="start" fill="#111" font-weight="bold" font-style="normal" textLength="5.8" lengthAdjust="spacingAndGlyphs">F</text>
<text x="447.3" y="213.8" font-size="8.7" text-anchor="middle" fill="#262626" font-weight="normal" font-style="normal" textLength="88.6" lengthAdjust="spacingAndGlyphs">Cumulative Incidence of</text>
<text x="448.05" y="223.6" font-size="8.7" text-anchor="middle" fill="#262626" font-weight="normal" font-style="normal" textLength="119.3" lengthAdjust="spacingAndGlyphs">BM+CNS Relapse by CNS status</text>
<line x1="385.4" y1="230.8" x2="385.4" y2="329.7" stroke="#111" stroke-width="1.35"/>
<line x1="382.8" y1="326.2" x2="385.4" y2="326.2" stroke="#111" stroke-width="1.0"/>
<text x="378.6" y="329.26" font-size="8.5" text-anchor="end" fill="#262626" font-weight="normal" font-style="normal" textLength="19.4" lengthAdjust="spacingAndGlyphs">0.000</text>
<line x1="382.8" y1="304.22" x2="385.4" y2="304.22" stroke="#111" stroke-width="1.0"/>
<text x="378.6" y="307.28" font-size="8.5" text-anchor="end" fill="#262626" font-weight="normal" font-style="normal" textLength="19.4" lengthAdjust="spacingAndGlyphs">0.005</text>
<line x1="382.8" y1="282.25" x2="385.4" y2="282.25" stroke="#111" stroke-width="1.0"/>
<text x="378.6" y="285.31" font-size="8.5" text-anchor="end" fill="#262626" font-weight="normal" font-style="normal" textLength="19.4" lengthAdjust="spacingAndGlyphs">0.010</text>
<line x1="382.8" y1="260.27" x2="385.4" y2="260.27" stroke="#111" stroke-width="1.0"/>
<text x="378.6" y="263.33" font-size="8.5" text-anchor="end" fill="#262626" font-weight="normal" font-style="normal" textLength="19.4" lengthAdjust="spacingAndGlyphs">0.015</text>
<line x1="382.8" y1="238.3" x2="385.4" y2="238.3" stroke="#111" stroke-width="1.0"/>
<text x="378.6" y="241.36" font-size="8.5" text-anchor="end" fill="#262626" font-weight="normal" font-style="normal" textLength="19.4" lengthAdjust="spacingAndGlyphs">0.020</text>
<line x1="384.9" y1="329.4" x2="511.6" y2="329.4" stroke="#111" stroke-width="1.35"/>
<line x1="390.2" y1="329.4" x2="390.2" y2="332.7" stroke="#111" stroke-width="1.0"/>
<line x1="400.64" y1="329.4" x2="400.64" y2="332.7" stroke="#111" stroke-width="1.0"/>
<line x1="411.08" y1="329.4" x2="411.08" y2="332.7" stroke="#111" stroke-width="1.0"/>
<line x1="421.52" y1="329.4" x2="421.52" y2="332.7" stroke="#111" stroke-width="1.0"/>
<line x1="431.96" y1="329.4" x2="431.96" y2="332.7" stroke="#111" stroke-width="1.0"/>
<line x1="442.4" y1="329.4" x2="442.4" y2="332.7" stroke="#111" stroke-width="1.0"/>
<line x1="452.84" y1="329.4" x2="452.84" y2="332.7" stroke="#111" stroke-width="1.0"/>
<line x1="463.28" y1="329.4" x2="463.28" y2="332.7" stroke="#111" stroke-width="1.0"/>
<line x1="473.72" y1="329.4" x2="473.72" y2="332.7" stroke="#111" stroke-width="1.0"/>
<line x1="484.16" y1="329.4" x2="484.16" y2="332.7" stroke="#111" stroke-width="1.0"/>
<line x1="494.6" y1="329.4" x2="494.6" y2="332.7" stroke="#111" stroke-width="1.0"/>
<line x1="505.04" y1="329.4" x2="505.04" y2="332.7" stroke="#111" stroke-width="1.0"/>
<text x="390.2" y="342.97" font-size="8.8" text-anchor="middle" fill="#262626" font-weight="normal" font-style="normal">0.0</text>
<text x="411.08" y="342.97" font-size="8.8" text-anchor="middle" fill="#262626" font-weight="normal" font-style="normal">2.0</text>
<text x="431.96" y="342.97" font-size="8.8" text-anchor="middle" fill="#262626" font-weight="normal" font-style="normal">4.0</text>
<text x="452.84" y="342.97" font-size="8.8" text-anchor="middle" fill="#262626" font-weight="normal" font-style="normal">6.0</text>
<text x="473.72" y="342.97" font-size="8.8" text-anchor="middle" fill="#262626" font-weight="normal" font-style="normal">8.0</text>
<text x="494.6" y="342.97" font-size="8.8" text-anchor="middle" fill="#262626" font-weight="normal" font-style="normal">10.0</text>
<text x="448.5" y="356.3" font-size="10.2" text-anchor="middle" fill="#262626" font-weight="normal" font-style="normal" textLength="17.4" lengthAdjust="spacingAndGlyphs">Years</text>
<text transform="translate(352.6,279.7) rotate(-90)" x="0" y="0" font-size="9" text-anchor="middle" fill="#262626" textLength="37" lengthAdjust="spacingAndGlyphs">Probability</text>
<line x1="390.3" y1="232.2" x2="397.3" y2="232.2" stroke="#449c4a" stroke-width="1.4"/>
<text x="401" y="234.3" font-size="6.3" text-anchor="start" fill="#262626" font-weight="normal" font-style="normal" textLength="18" lengthAdjust="spacingAndGlyphs">CNS 1</text>
<line x1="390.3" y1="242.1" x2="397.3" y2="242.1" stroke="#921b3a" stroke-width="1.4"/>
<text x="401" y="244.2" font-size="6.3" text-anchor="start" fill="#262626" font-weight="normal" font-style="normal" textLength="18" lengthAdjust="spacingAndGlyphs">CNS 2</text>
<line x1="390.3" y1="251.2" x2="397.3" y2="251.2" stroke="#27517f" stroke-width="1.4"/>
<text x="401" y="253.3" font-size="6.3" text-anchor="start" fill="#262626" font-weight="normal" font-style="normal" textLength="18" lengthAdjust="spacingAndGlyphs">CNS 3</text>
<text x="511.3" y="326.3" font-size="6.4" fill="#262626" text-anchor="end" textLength="28.2" lengthAdjust="spacingAndGlyphs" font-style="italic">P = .6028</text>
<polyline points="390.7,327 393.8,327 393.8,320.9 396.7,320.9 397.4,314.7 399,308 400,303.5 402.3,296.8 404.5,289 406.8,285.7 434.9,285.7 434.9,282.2 446.8,282.2 446.8,275.7 449.7,275.7 449.7,270.8 453.8,270.8 453.8,262.6 506.9,262.6" fill="none" stroke="#449c4a" stroke-width="1.6" stroke-linejoin="miter"/>
<polyline points="390.2,325.8 390.2,315.8 391.6,315.8 391.6,305.8 399,305.8 399,296.4 402.3,296.4 402.3,285.7 407.2,285.7 407.2,275.7 412.3,275.7 412.3,265.6 419,265.6 419,254.9 502,254.9" fill="none" stroke="#921b3a" stroke-width="1.6" stroke-linejoin="miter"/>
<polyline points="390.7,325.8 390.7,305.8 393.8,305.8 393.8,298.6 505.3,298.6" fill="none" stroke="#27517f" stroke-width="1.6" stroke-linejoin="miter"/>
</svg>
</body></html>
